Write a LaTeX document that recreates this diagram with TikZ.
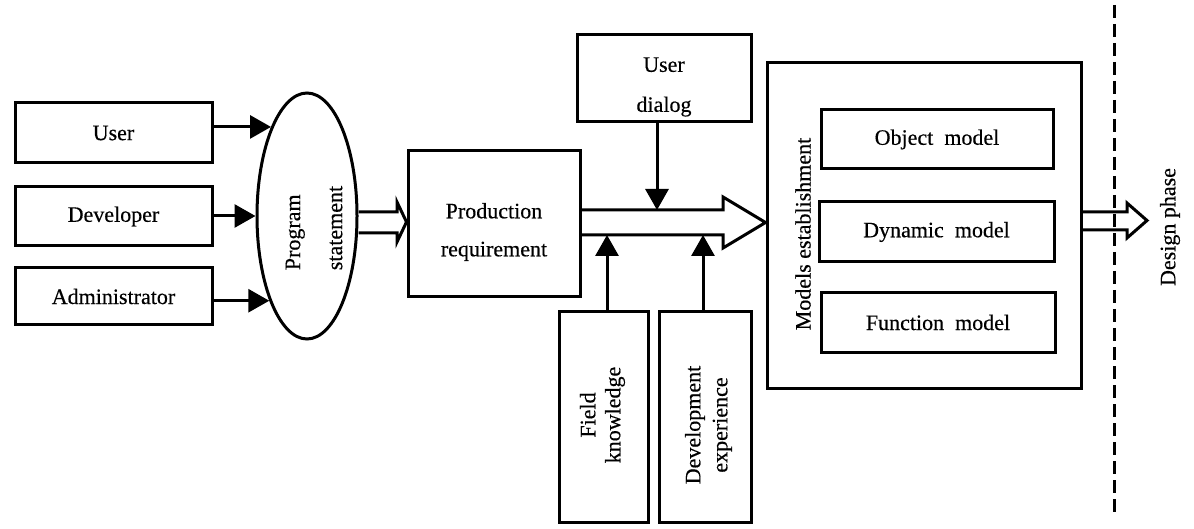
\documentclass[tikz,border=0pt]{standalone}
\usepackage{fontspec}
\setmainfont{Liberation Serif}[FakeBold=0.4]
\usetikzlibrary{arrows.meta,shapes.geometric}
\begin{document}
\begin{tikzpicture}[x=1pt,y=-1pt,
  every node/.style={font=\fontsize{22}{25}\selectfont},
  box/.style={draw, line width=3pt, inner sep=0pt},
  conn/.style={line width=3pt, -{Triangle[length=21pt,width=23pt]}},
  hollow/.style={line width=3pt, line join=miter},
  vtext/.style={rotate=90, align=center, inner sep=0pt}]
\useasboundingbox (0,0) rectangle (1194,529);

% stakeholders
\node[box, minimum width=197pt, minimum height=60pt] (user) at (113.5,133) {User};
\node[box, minimum width=197pt, minimum height=59pt] (dev) at (113.5,216.5) {Developer};
\node[box, minimum width=197pt, minimum height=57pt] (admin) at (113.5,296.5) {Administrator};

% program statement
\node[draw, ellipse, line width=3pt, minimum width=100pt, minimum height=246pt, inner sep=0pt] (ps) at (307,216) {};
\node[rotate=90, align=left, inner sep=0pt, font=\fontsize{22}{42}\selectfont] (pstext) at (314,228) {Program\\statement};

\draw[conn] (user.east |- ps.112.7) -- (ps.112.7);
\draw[conn] (dev.east |- ps.west) -- (ps.west);
\draw[conn] (admin.east |- ps.246) -- (ps.246);

% production requirement
\node[box, minimum width=172pt, minimum height=146pt] (prod) at (494,224) {};
\node[align=center, inner sep=0pt, font=\fontsize{22}{38}\selectfont] (prodtext) at (494,232) {Production\\requirement};

\draw[hollow] (ps.east |- 0,212) -- (397,212) -- (397,202) -- (prod.west |- 0,222)
  -- (397,242) -- (397,233) -- (ps.east |- 0,233);

% inputs to the analysis
\node[box, minimum width=174pt, minimum height=87pt] (dialog) at (664,78.5) {};
\node[align=center, inner sep=0pt, font=\fontsize{22}{40}\selectfont] (dialogtext) at (664,87) {User\\dialog};

\node[box, minimum width=89pt, minimum height=210pt] (field) at (603.5,417) {};
\node[vtext, font=\fontsize{22}{25}\selectfont] (fieldtext) at (602.5,415) {Field\\knowledge};

\node[box, minimum width=92pt, minimum height=210pt] (devexp) at (705,417) {};
\node[vtext, font=\fontsize{22}{27}\selectfont] (devexptext) at (708.5,425) {Development\\experience};

% models establishment
\node[box, minimum width=314pt, minimum height=325pt] (models) at (924,225.5) {};
\node[rotate=90, inner sep=0pt] (modelstext) at (803,234) {Models establishment};
\node[box, minimum width=232pt, minimum height=59pt] (obj) at (937,139.5) {Object\ \ model};
\node[box, minimum width=235pt, minimum height=60pt] (dyn) at (936.5,232) {Dynamic\ \ model};
\node[box, minimum width=234pt, minimum height=59pt] (func) at (938,322.5) {Function\ \ model};

% main flow into the models
\draw[hollow] (prod.east |- 0,210) -- (723,210) -- (723,197) -- (models.west |- 0,222.5)
  -- (723,248) -- (723,235) -- (prod.east |- 0,235);

\draw[conn] ([xshift=-7pt]dialog.south) -- ([xshift=-7pt]dialog.south |- 0,210);
\draw[conn] ([xshift=3.5pt]field.north) -- ([xshift=3.5pt]field.north |- 0,235);
\draw[conn] ([xshift=-2pt]devexp.north) -- ([xshift=-2pt]devexp.north |- 0,235);

% towards the design phase
\draw[hollow] (models.east |- 0,212) -- (1127,212) -- (1127,203) -- (1147,220.5)
  -- (1127,238) -- (1127,230) -- (models.east |- 0,230);

\coordinate (dtop) at (1114,5);
\coordinate (dbot) at (1114,513);
\draw[line width=3pt, dash pattern=on 13pt off 6pt] (dtop) -- (dbot);

\node[rotate=90, inner sep=0pt] (design) at (1170,227) {Design phase};
\end{tikzpicture}
\end{document}
